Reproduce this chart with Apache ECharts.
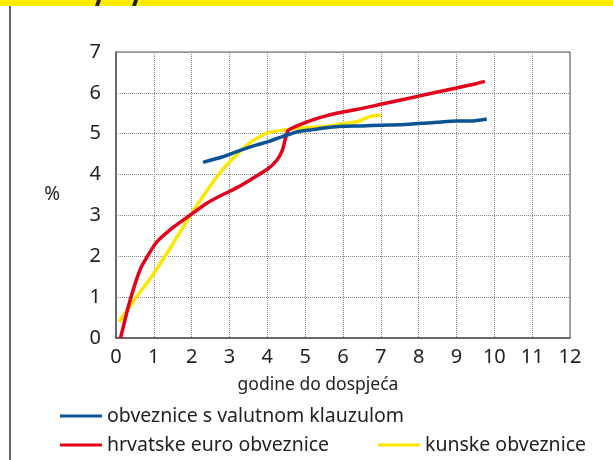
<!DOCTYPE html>
<html>
<head>
<meta charset="utf-8">
<script src="https://cdn.jsdelivr.net/npm/echarts@6/dist/echarts.min.js"></script>
<style>
  html, body { margin: 0; padding: 0; background: #fff; }
  #main { width: 613px; height: 460px; }
</style>
</head>
<body>
<div id="main"></div>
<script>
  // podaci ocitani sa slike: [godine do dospijeca, prinos %]
  var valutnaKlauzula = [[2.3,4.3],[2.8,4.43],[3.3,4.6],[3.7,4.72],[4.0,4.8],[4.4,4.93],[4.8,5.05],[5.2,5.1],[5.6,5.15],[6.0,5.18],[6.5,5.19],[7.0,5.21],[7.5,5.22],[8.0,5.25],[8.5,5.28],[9.0,5.31],[9.4,5.31],[9.8,5.36]];
  var euroObveznice = [[0.12,0],[0.35,0.85],[0.65,1.7],[1.05,2.32],[1.5,2.7],[1.95,3.0],[2.4,3.3],[2.8,3.5],[3.2,3.68],[3.6,3.9],[4.0,4.13],[4.25,4.35],[4.4,4.6],[4.47,4.85],[4.55,5.08],[4.8,5.2],[5.2,5.34],[5.6,5.45],[6.0,5.53],[6.5,5.62],[7.0,5.72],[7.5,5.82],[8.0,5.92],[8.5,6.02],[9.0,6.12],[9.4,6.2],[9.75,6.28]];
  var kunskeObveznice = [[0.08,0.4],[0.5,0.95],[1.0,1.58],[1.5,2.3],[2.0,3.05],[2.4,3.6],[2.8,4.1],[3.2,4.5],[3.6,4.82],[4.0,5.02],[4.5,5.1],[5.0,5.15],[5.5,5.17],[6.0,5.25],[6.4,5.3],[6.6,5.38],[6.75,5.43],[7.0,5.46]];
  var nazivi = ['obveznice s valutnom klauzulom', 'hrvatske euro obveznice', 'kunske obveznice'];

  var font = 'Noto Sans';
  var myChart = echarts.init(document.getElementById('main'));

  var legendaStil = {
    icon: 'rect', itemWidth: 42, itemHeight: 3, itemGap: 10,
    textStyle: { fontFamily: font, fontSize: 19.5, color: '#222' }
  };

  var option = {
    animation: false,
    backgroundColor: '#fff',
    graphic: [
      { type: 'rect', shape: { x: 0, y: 0, width: 613, height: 6 }, style: { fill: '#ffec00' } },
      { type: 'polygon', shape: { points: [[97, 0], [101, 0], [99, 6], [95, 6]] }, style: { fill: '#222' } },
      { type: 'polygon', shape: { points: [[134, 0], [138, 0], [136, 6], [132, 6]] }, style: { fill: '#222' } },
      { type: 'line', shape: { x1: 10, y1: 6, x2: 10, y2: 460 }, style: { stroke: '#333', lineWidth: 1.5 } }
    ],
    legend: [
      Object.assign({ left: 55, top: 401, data: [nazivi[0]] }, legendaStil),
      Object.assign({ left: 55, top: 430, data: [nazivi[1]] }, legendaStil),
      Object.assign({ left: 373, top: 430, data: [nazivi[2]] }, legendaStil)
    ],
    grid: {
      left: 116, top: 52, width: 454, height: 286,
      show: true, borderColor: '#555', borderWidth: 1
    },
    xAxis: {
      type: 'value', min: 0, max: 12, interval: 1,
      name: 'godine do dospjeća', nameLocation: 'middle', nameGap: 38,
      nameTextStyle: { fontFamily: font, fontSize: 17.5, color: '#222', padding: [0, 50, 0, 0] },
      axisLine: { lineStyle: { color: '#555', width: 1.5 } },
      axisTick: { show: false },
      axisLabel: { fontFamily: font, fontSize: 20, color: '#222', margin: 9 },
      splitLine: { lineStyle: { color: '#888', type: 'dotted', width: 1 } }
    },
    yAxis: {
      type: 'value', min: 0, max: 7, interval: 1,
      name: '%', nameLocation: 'middle', nameGap: 56, nameRotate: 0,
      nameTextStyle: { fontFamily: font, fontSize: 19, color: '#222' },
      axisLine: { show: true, lineStyle: { color: '#555', width: 1.5 } },
      axisTick: { show: false },
      axisLabel: { fontFamily: font, fontSize: 20, color: '#222', margin: 15 },
      splitLine: { lineStyle: { color: '#888', type: 'dotted', width: 1 } }
    },
    series: [
      { name: nazivi[0], type: 'line', data: valutnaKlauzula, smooth: 0.15, showSymbol: false,
        itemStyle: { color: '#0b5394' }, lineStyle: { color: '#0b5394', width: 3.5 }, z: 3 },
      { name: nazivi[1], type: 'line', data: euroObveznice, smooth: 0.15, showSymbol: false,
        itemStyle: { color: '#e2001a' }, lineStyle: { color: '#e2001a', width: 3.5 }, z: 2 },
      { name: nazivi[2], type: 'line', data: kunskeObveznice, smooth: 0.15, showSymbol: false,
        itemStyle: { color: '#ffe600' }, lineStyle: { color: '#ffe600', width: 3.5 }, z: 1 }
    ]
  };

  myChart.setOption(option);
</script>
</body>
</html>
